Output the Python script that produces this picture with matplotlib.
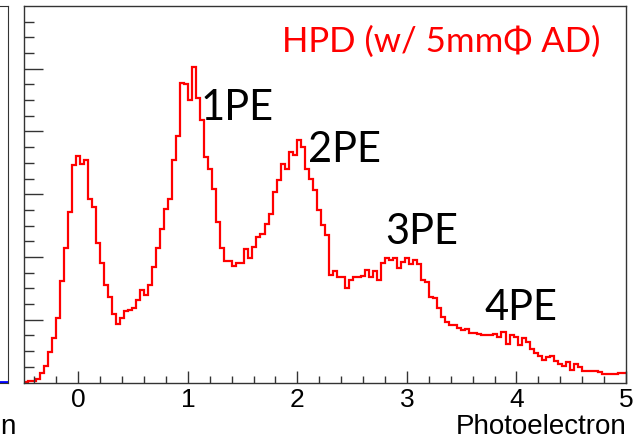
import matplotlib.pyplot as plt
import numpy as np

# histogram range and bin contents (arbitrary units, 1 major y tick = 1)
x_min, x_max = -0.5, 5.0
counts = [
    0.005, 0.016, 0.02, 0.06, 0.15, 0.26, 0.48, 0.71, 1.03, 1.61,
    2.15, 2.71, 3.47, 3.61, 3.49, 3.54, 2.92, 2.79, 2.23, 1.90,
    1.55, 1.37, 1.09, 0.94, 1.02, 1.14, 1.15, 1.18, 1.31, 1.47,
    1.40, 1.55, 1.84, 2.15, 2.45, 2.76, 2.93, 3.55, 3.93, 4.77,
    4.75, 4.50, 5.02, 4.53, 4.19, 3.60, 3.41, 3.09, 2.56, 2.14,
    1.93, 1.93, 1.86, 1.90, 1.90, 2.12, 1.98, 2.16, 2.32, 2.37,
    2.52, 2.69, 3.04, 3.22, 3.49, 3.41, 3.68, 3.63, 3.87, 3.76,
    3.41, 3.25, 3.07, 2.75, 2.51, 2.35, 1.71, 1.78, 1.68, 1.68,
    1.50, 1.63, 1.68, 1.68, 1.70, 1.80, 1.68, 1.78, 1.63, 1.90,
    1.98, 1.95, 1.98, 1.82, 1.92, 1.98, 1.89, 1.96, 1.89, 1.64,
    1.60, 1.36, 1.34, 1.18, 1.04, 0.96, 0.91, 0.91, 0.87, 0.83,
    0.86, 0.79, 0.79, 0.78, 0.76, 0.76, 0.75, 0.78, 0.72, 0.80,
    0.62, 0.75, 0.72, 0.59, 0.71, 0.64, 0.54, 0.47, 0.43, 0.36,
    0.40, 0.42, 0.34, 0.30, 0.26, 0.32, 0.20, 0.30, 0.25, 0.19,
    0.18, 0.18, 0.18, 0.16, 0.14, 0.14, 0.14, 0.14, 0.15, 0.15,
]
edges = np.linspace(x_min, x_max, len(counts) + 1)

peak_labels = ['1PE', '2PE', '3PE', '4PE']
peak_pos = [(1.12, 4.38), (2.10, 3.70), (2.80, 2.40), (3.71, 1.18)]

# tail of the neighbouring panel that is cut off on the left
left_counts = [0.01, 0.02, 0.01]

W, H = 644, 440
fig = plt.figure(figsize=(W / 100, H / 100), dpi=100)
frame = '#333333'

# neighbouring (cropped) panel
axl = fig.add_axes([-0.2, 1 - 382.5 / H, 0.2 + 7.5 / W, (382.5 - 6) / H])
axl.stairs(left_counts, np.linspace(0, 1, len(left_counts) + 1), baseline=None,
           color='#0000ff', lw=2)
axl.set_xlim(0, 1)
axl.set_ylim(0, 6)
axl.set_xticks([])
axl.set_yticks([])
for s in axl.spines.values():
    s.set_color(frame)
fig.text(0, 1 - 427 / H, 'n', ha='left', va='center',
         fontsize=20, family='Liberation Sans')

# main panel
ax = fig.add_axes([23.5 / W, 1 - 382.5 / H, (626 - 23.5) / W, (382.5 - 6) / H])
ax.stairs(counts, edges, baseline=None, color='#ff0000', lw=1.6)
ax.set_xlim(x_min, x_max)
ax.set_ylim(0, 6)

ax.set_xticks(np.arange(0, 6))
ax.set_xticks(np.arange(-0.4, 5.0, 0.2), minor=True)
ax.set_yticks(np.arange(1, 6))
ax.set_yticks(np.arange(0.25, 6, 0.25), minor=True)
ax.set_yticklabels([])
ax.tick_params(axis='x', which='major', direction='in', length=9, width=1,
               color=frame, labelsize=19, pad=4)
ax.tick_params(axis='x', which='minor', direction='in', length=5, width=1,
               color=frame)
ax.tick_params(axis='y', which='major', direction='in', length=14, width=1,
               color=frame)
ax.tick_params(axis='y', which='minor', direction='in', length=7, width=1,
               color=frame)
for lab in ax.get_xticklabels():
    lab.set_family('Liberation Sans')
for s in ax.spines.values():
    s.set_color(frame)
    s.set_linewidth(1)

ax.text(1.0, -0.118, 'Photoelectron', transform=ax.transAxes, ha='right',
        va='center', fontsize=20, family='Liberation Sans')

ax.text(0.958, 0.905, 'HPD (w/ 5mm\u03a6 AD)', transform=ax.transAxes,
        ha='right', va='center', color='#ff0000', fontsize=25,
        family=['Lato', 'DejaVu Sans'])
for lab, (px, py) in zip(peak_labels, peak_pos):
    ax.text(px, py, lab, ha='left', va='center', color='black', fontsize=30,
            family=['Lato', 'DejaVu Sans'])

fig.savefig('out.png', dpi=100)
